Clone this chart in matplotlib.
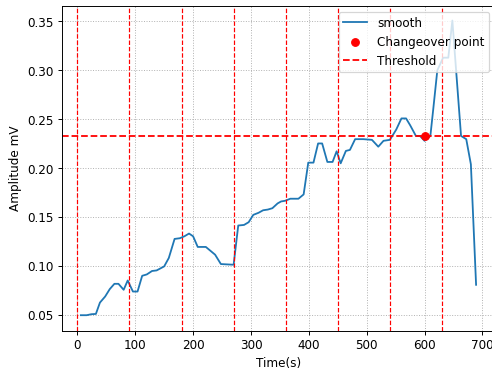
import matplotlib

matplotlib.use("Agg")
import matplotlib.pyplot as plt

# smoothed amplitude trace
time_s = [6, 16, 24, 32, 39, 48, 56, 64, 71, 80, 87, 96, 104, 112, 120, 129, 137, 150,
          158, 168, 177, 185, 193, 200, 208, 222, 238, 248, 270, 278, 288, 296, 304, 313,
          321, 329, 337, 346, 352, 359, 368, 382, 391, 399, 408, 416, 423, 432, 441, 448,
          455, 464, 471, 480, 494, 509, 520, 529, 540, 551, 560, 568, 575, 585, 592, 600,
          610, 615, 622, 632, 641, 648, 663, 672, 680, 689]
amplitude = [0.0497, 0.0497, 0.0507, 0.0510, 0.0626, 0.0688, 0.0764, 0.0818, 0.0818, 0.0757,
             0.0852, 0.0739, 0.0739, 0.0900, 0.0914, 0.0949, 0.0955, 0.0996, 0.1082, 0.1277,
             0.1284, 0.1304, 0.1332, 0.1304, 0.1195, 0.1195, 0.1116, 0.1020, 0.1013, 0.1414,
             0.1420, 0.1448, 0.1523, 0.1544, 0.1570, 0.1577, 0.1591, 0.1640, 0.1660, 0.1667,
             0.1688, 0.1688, 0.1732, 0.2057, 0.2057, 0.2253, 0.2253, 0.2064, 0.2064, 0.2173,
             0.2050, 0.2177, 0.2187, 0.2297, 0.2297, 0.2290, 0.2220, 0.2280, 0.2290, 0.2395,
             0.2509, 0.2509, 0.2440, 0.2330, 0.2330, 0.2280, 0.2330, 0.2605, 0.3000, 0.3130,
             0.3130, 0.3510, 0.2330, 0.2297, 0.2040, 0.0808]

threshold = 0.2325
changeover_time = [600]
changeover_amp = [0.2325]
segment_marks = [0, 90, 180, 270, 360, 450, 540, 630]

DPI = 86.5
fig = plt.figure(figsize=(5.69, 4.27), dpi=DPI)
ax = fig.add_axes([62 / 492, (369 - 330.7) / 369, (495 - 62) / 492, (330.7 - 6) / 369])

ax.plot(time_s, amplitude, label="smooth")
ax.scatter(changeover_time, changeover_amp, color="red", s=40, zorder=3, label="Changeover point")
ax.axhline(threshold, color="red", linestyle="--", label="Threshold")
for t in segment_marks:
    ax.axvline(t, color="red", linestyle="--", linewidth=1)

ax.set_xlim(-26.5, 722)
ax.set_ylim(0.0339, 0.3662)
ax.grid(True, linestyle=":")
ax.set_xlabel("Time(s)")
ax.set_ylabel("Amplitude mV")
ax.legend(loc="upper right")

fig.savefig("out.png", dpi=DPI)
